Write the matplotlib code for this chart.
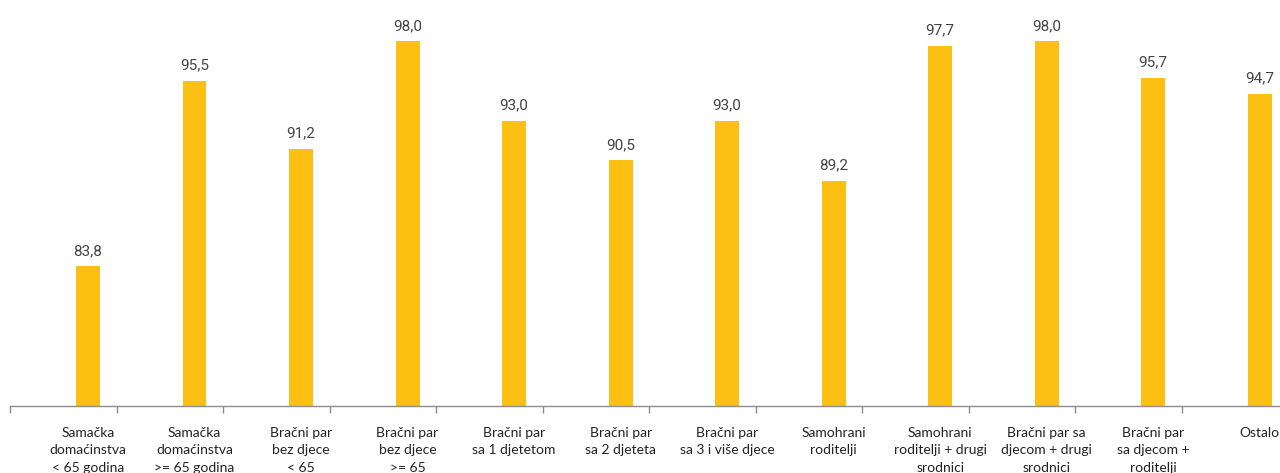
import matplotlib.pyplot as plt
import numpy as np

categories = ['Samačka\ndomaćinstva\n< 65 godina', 'Samačka\ndomaćinstva\n>= 65 godina',
              'Bračni par\nbez djece\n< 65', 'Bračni par\nbez djece\n>= 65',
              'Bračni par\nsa 1 djetetom', 'Bračni par\nsa 2 djeteta',
              'Bračni par\nsa 3 i više djece', 'Samohrani\nroditelji',
              'Samohrani\nroditelji + drugi\nsrodnici', 'Bračni par sa\ndjecom + drugi\nsrodnici',
              'Bračni par\nsa djecom +\nroditelji', 'Ostalo']
values = [83.8, 95.5, 91.2, 98.0, 93.0, 90.5, 93.0, 89.2, 97.7, 98.0, 95.7, 94.7]

fig = plt.figure(figsize=(12.8, 4.73), dpi=100)
ax = fig.add_axes([10 / 1280, 67 / 473, 1 - 10 / 1280, 406 / 473])

x = np.arange(len(values))
ax.bar(x, values, width=0.225, color='#fcc012', zorder=2)

for xi, v in zip(x, values):
    ax.annotate(f'{v:.1f}'.replace('.', ','), (xi, v), xytext=(0, 6),
                textcoords='offset points', ha='center', va='bottom',
                fontsize=11, color='#444444', family='Roboto')

ax.set_ylim(75, 100.6)
ax.set_xlim(-0.732, 11.19)

for s in ['top', 'right', 'left']:
    ax.spines[s].set_visible(False)
ax.spines['bottom'].set_color('#8c8c8c')
ax.spines['bottom'].set_linewidth(1)
ax.set_yticks([])

ax.set_xticks(x)
ax.set_xticklabels(categories, fontsize=10, color='#222222', family='Lato',
                   linespacing=1.55)
ax.tick_params(axis='x', which='major', length=0, pad=15)
ax.set_xticks(np.arange(len(values)) - 0.732, minor=True)
ax.tick_params(axis='x', which='minor', length=5, color='#8c8c8c', width=1)

fig.savefig('out.png', dpi=100)
